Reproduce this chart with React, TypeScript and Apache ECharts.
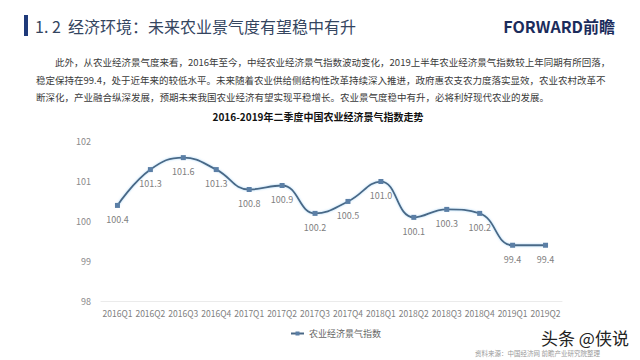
import React, { useEffect, useRef } from "react";
import * as echarts from "echarts";

const categories = [
  "2016Q1", "2016Q2", "2016Q3", "2016Q4",
  "2017Q1", "2017Q2", "2017Q3", "2017Q4",
  "2018Q1", "2018Q2", "2018Q3", "2018Q4",
  "2019Q1", "2019Q2",
];
const indexValues = [100.4, 101.3, 101.6, 101.3, 100.8, 100.9, 100.2, 100.5, 101.0, 100.1, 100.3, 100.2, 99.4, 99.4];
const seriesName = "农业经济景气指数";
const yMin = 98;
const yMax = 102;
const yInterval = 1;

const headerTitle = "1. 2  经济环境：未来农业景气度有望稳中有升";
const logoText = "FORWARD前瞻";
const chartTitle = "2016-2019年二季度中国农业经济景气指数走势";
const paragraphLines = [
  "此外，从农业经济景气度来看，2016年至今，中经农业经济景气指数波动变化，2019上半年农业经济景气指数较上年同期有所回落，",
  "稳定保持在99.4，处于近年来的较低水平。未来随着农业供给侧结构性改革持续深入推进，政府惠农支农力度落实显效，农业农村改革不",
  "断深化，产业融合纵深发展，预期未来我国农业经济有望实现平稳增长。农业景气度稳中有升，必将利好现代农业的发展。",
];
const sourceText = "资料来源：中国经济网 前瞻产业研究院整理";
const watermarkText = "头条 @侠说";

const CJK = '"Noto Sans CJK SC", "Noto Sans", sans-serif';

export default function App() {
  const ref = useRef<HTMLDivElement>(null);
  useEffect(() => {
    if (!ref.current) return;
    const chart = echarts.init(ref.current, undefined, { renderer: "svg" });
    chart.setOption({
      animation: false,
      backgroundColor: "#ffffff",
      textStyle: { fontFamily: CJK },
      grid: { left: 101, right: 78, top: 141.7, bottom: 59, containLabel: false },
      legend: {
        data: [seriesName],
        left: 285,
        top: 324,
        itemWidth: 13,
        itemHeight: 5,
        itemGap: 4,
        textStyle: { fontSize: 9, color: "#666", fontFamily: CJK },
      },
      xAxis: {
        type: "category",
        data: categories,
        boundaryGap: true,
        axisLine: { show: true, lineStyle: { color: "#ebebeb", width: 1 } },
        axisTick: { show: false },
        axisLabel: { fontSize: 8.5, color: "#808080", margin: 8, interval: 0, fontFamily: CJK },
        splitLine: { show: false },
      },
      yAxis: {
        type: "value",
        min: yMin,
        max: yMax,
        interval: yInterval,
        axisLine: { show: false },
        axisTick: { show: false },
        axisLabel: { fontSize: 9, color: "#8a8a8a", margin: 10, fontFamily: CJK },
        splitLine: { show: false },
      },
      series: [
        {
          name: seriesName,
          type: "line",
          data: indexValues,
          smooth: 0.45,
          symbol: "rect",
          symbolSize: 5,
          itemStyle: { color: "#5b7fa6" },
          lineStyle: {
            color: "#4a6886",
            width: 1.8,
            shadowColor: "rgba(150,205,245,0.8)",
            shadowBlur: 2,
          },
          label: {
            show: true,
            position: "bottom",
            distance: 7,
            fontSize: 9,
            color: "#808080",
            fontFamily: CJK,
            formatter: (p: any) => Number(p.value).toFixed(1),
          },
        },
      ],
      graphic: [
        { type: "rect", shape: { x: 24, y: 15, width: 4, height: 21 }, style: { fill: "#1f3a7a" } },
        {
          type: "text",
          x: 35,
          y: 26,
          style: { text: headerTitle, font: `16px ${CJK}`, fill: "#34455f", align: "left", verticalAlign: "middle" },
        },
        {
          type: "text",
          x: 615,
          y: 26,
          style: { text: logoText, font: `bold 16px ${CJK}`, fill: "#1b2c5c", align: "right", verticalAlign: "middle" },
        },
        {
          type: "text",
          x: 55,
          y: 62,
          style: { text: paragraphLines[0], font: `9.5px ${CJK}`, fill: "#3a3a3a", align: "left", verticalAlign: "middle" },
        },
        {
          type: "text",
          x: 36,
          y: 79.5,
          style: { text: paragraphLines[1], font: `9.5px ${CJK}`, fill: "#3a3a3a", align: "left", verticalAlign: "middle" },
        },
        {
          type: "text",
          x: 36,
          y: 96.5,
          style: { text: paragraphLines[2], font: `9.5px ${CJK}`, fill: "#3a3a3a", align: "left", verticalAlign: "middle" },
        },
        {
          type: "text",
          x: 318,
          y: 116,
          style: { text: chartTitle, font: `bold 10px ${CJK}`, fill: "#111", align: "center", verticalAlign: "middle" },
        },
        {
          type: "text",
          x: 585,
          y: 337,
          style: { text: watermarkText, font: `17px ${CJK}`, fill: "#222", align: "center", verticalAlign: "middle" },
        },
        {
          type: "text",
          x: 600,
          y: 353,
          style: { text: sourceText, font: `6.5px ${CJK}`, fill: "#999", align: "right", verticalAlign: "middle" },
        },
      ],
    });
    return () => chart.dispose();
  }, []);
  return (
    <div
      ref={ref}
      style={{ position: "absolute", left: 0, top: 0, width: 640, height: 360, background: "#fff" }}
    />
  );
}
